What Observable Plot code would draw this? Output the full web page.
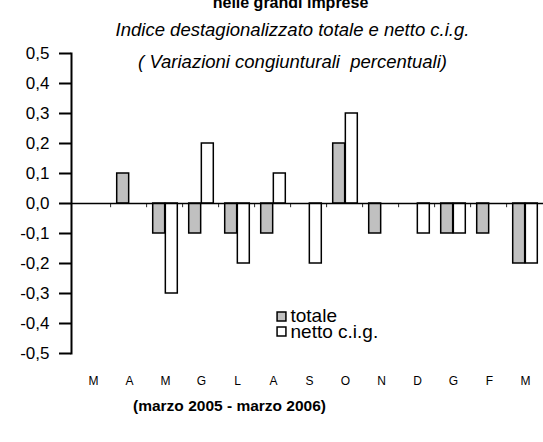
<!DOCTYPE html>
<html>
<head>
<meta charset="utf-8">
<script src="https://cdn.jsdelivr.net/npm/d3@7"></script>
<script src="https://cdn.jsdelivr.net/npm/@observablehq/plot@0.6"></script>
<style>
  html, body { margin: 0; padding: 0; background: #fff; }
  #chart svg { display: block; }
  #chart svg text { white-space: pre; }
</style>
</head>
<body>
<div id="chart"></div>
<script>
// ---- data ----
const monthKeys = ["2005-03","2005-04","2005-05","2005-06","2005-07","2005-08","2005-09","2005-10","2005-11","2005-12","2006-01","2006-02","2006-03"];
const monthLabels = ["M","A","M","G","L","A","S","O","N","D","G","F","M"];
const totale = [0, 0.1, -0.1, -0.1, -0.1, -0.1, 0, 0.2, -0.1, 0, -0.1, -0.1, -0.2];
const netto  = [0, 0, -0.3, 0.2, -0.2, 0.1, -0.2, 0.3, 0, -0.1, -0.1, 0, -0.2];
const yTicks = [-0.5, -0.4, -0.3, -0.2, -0.1, 0, 0.1, 0.2, 0.3, 0.4, 0.5];
const title = "nelle grandi imprese";
const subtitle1 = "Indice destagionalizzato totale e netto c.i.g.";
const subtitle2 = "( Variazioni congiunturali  percentuali)";
const caption = "(marzo 2005 - marzo 2006)";
const seriesNames = ["totale", "netto c.i.g."];

// ---- layout ----
const W = 543, H = 442;
const mL = 71, mT = 53, mB = 89;
const xEnd = 547.7;
const bw = (xEnd - mL) / monthKeys.length;
const labelOf = Object.fromEntries(monthKeys.map((k, i) => [k, monthLabels[i]]));
const rows = monthKeys.map((k, i) => ({key: k, totale: totale[i], netto: netto[i]}));
const font = "'Liberation Sans', Arial, sans-serif";
const outer = 5.7, half = (bw - 2 * outer) / 2;

const chart = Plot.plot({
  width: W, height: H,
  marginLeft: mL, marginRight: 0, marginTop: mT, marginBottom: mB,
  style: {fontFamily: font, background: "#fff", overflow: "visible"},
  x: {domain: monthKeys, padding: 0, range: [mL, xEnd], axis: null},
  y: {domain: [-0.5, 0.5], axis: null},
  marks: [
    // bars
    Plot.barY(rows.filter(d => d.totale !== 0), {x: "key", y: "totale", fill: "#c0c0c0", stroke: "black", strokeWidth: 1.5, insetLeft: outer, insetRight: outer + half}),
    Plot.barY(rows.filter(d => d.netto !== 0), {x: "key", y: "netto", fill: "white", stroke: "black", strokeWidth: 1.5, insetLeft: outer + half, insetRight: outer}),
    // zero line
    Plot.ruleY([0], {stroke: "black", strokeWidth: 1.5}),
    // category boundary ticks
    Plot.barY(monthKeys.slice(1), {x: d => d, y1: 0, y2: -0.014, fill: "black", insetLeft: -0.75, insetRight: bw - 0.75}),
    // y axis
    Plot.axisY({ticks: yTicks, tickSize: 12, tickPadding: 10, strokeWidth: 2, fontSize: 17, label: null, tickFormat: d => d3.format(".1f")(d).replace("−", "-").replace(".", ",")}),
    Plot.frame({anchor: "left", stroke: "black", strokeWidth: 2}),
    // x axis labels
    Plot.axisX({tickSize: 0, tickPadding: 23, fontSize: 12, label: null, tickFormat: d => labelOf[d], anchor: "bottom"}),
    // titles
    Plot.text([title], {frameAnchor: "top-left", dx: 290 - mL, dy: -mT + 2, fontSize: 16, fontWeight: "bold", textAnchor: "middle", lineAnchor: "middle"}),
    Plot.text([subtitle1], {frameAnchor: "top-left", dx: 292 - mL, dy: 30 - mT, fontSize: 18.5, fontStyle: "italic", textAnchor: "middle", lineAnchor: "middle"}),
    Plot.text([subtitle2], {frameAnchor: "top-left", dx: 292 - mL, dy: 62 - mT, fontSize: 18.5, fontStyle: "italic", textAnchor: "middle", lineAnchor: "middle"}),
    Plot.text([caption], {frameAnchor: "bottom-left", dx: 229 - mL, dy: 406 - (H - mB), fontSize: 15.5, fontWeight: "bold", textAnchor: "middle", lineAnchor: "middle"}),
    // legend
    Plot.dot([seriesNames[0]], {frameAnchor: "top-left", dx: 281 - mL, dy: 316 - mT, symbol: "square", r: 5, fill: "#c0c0c0", stroke: "black", strokeWidth: 1.5}),
    Plot.dot([seriesNames[1]], {frameAnchor: "top-left", dx: 281 - mL, dy: 331 - mT, symbol: "square", r: 5, fill: "white", stroke: "black", strokeWidth: 1.5}),
    Plot.text([seriesNames[0]], {frameAnchor: "top-left", dx: 290 - mL, dy: 315 - mT, textAnchor: "start", fontSize: 19, lineAnchor: "middle"}),
    Plot.text([seriesNames[1]], {frameAnchor: "top-left", dx: 290 - mL, dy: 331 - mT, textAnchor: "start", fontSize: 19, lineAnchor: "middle"})
  ]
});
document.getElementById("chart").appendChild(chart);
</script>
</body>
</html>
